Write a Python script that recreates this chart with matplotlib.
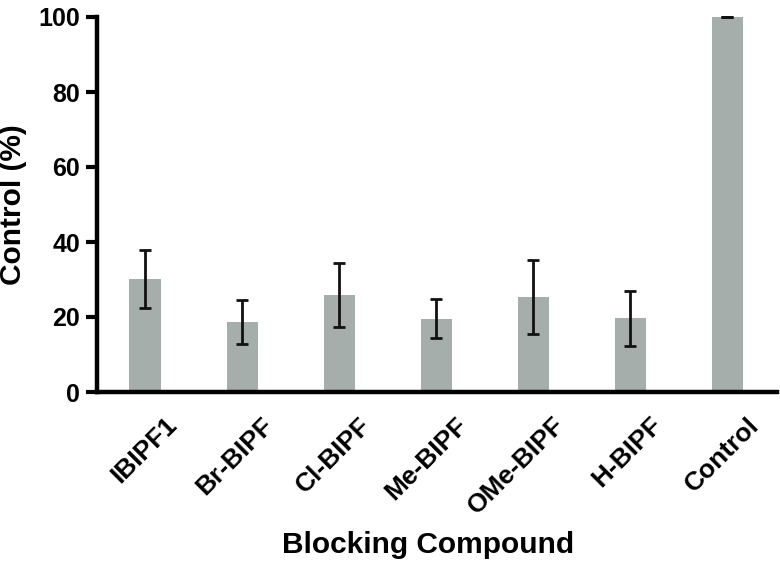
import numpy as np
import matplotlib.pyplot as plt
from matplotlib.transforms import ScaledTranslation

plt.rcParams['font.family'] = ['Liberation Sans', 'DejaVu Sans']
plt.rcParams['font.weight'] = 'bold'

compounds = ['IBIPF1', 'Br-BIPF', 'Cl-BIPF', 'Me-BIPF', 'OMe-BIPF', 'H-BIPF', 'Control']
values = [30.1, 18.7, 25.9, 19.6, 25.3, 19.7, 100.0]
errors = [7.8, 5.8, 8.5, 5.3, 9.8, 7.3, 0.0]

x = np.arange(len(compounds))

fig = plt.figure(figsize=(7.8, 5.61), dpi=100)
ax = fig.add_axes([97/780, 1-392/561, 680/780, 375/561])

ax.bar(x, values, width=0.32, color='#a5aeab', zorder=1)
ax.errorbar(x, values, yerr=errors, fmt='none', ecolor='#111111',
            elinewidth=2, capsize=4.5, capthick=2, clip_on=False, zorder=2)

ax.set_xlim(-0.495, 6.515)
ax.set_ylim(0, 100)
ax.set_yticks([0, 20, 40, 60, 80, 100])
ax.set_xticks(x)
ax.set_xticklabels(compounds, rotation=45, ha='right', va='center',
                   rotation_mode='anchor', fontsize=19, fontweight='bold')
ax.tick_params(axis='x', length=0, pad=14)
ax.tick_params(axis='y', length=8, width=3, labelsize=18, pad=4, direction='out')
for t in ax.get_yticklabels():
    t.set_fontweight('bold')

# shift rotated labels so they end right of the bar centre, like the original
shift = ScaledTranslation(0.28, -0.10, fig.dpi_scale_trans)
for t in ax.get_xticklabels():
    t.set_transform(t.get_transform() + shift)

for side in ['top', 'right']:
    ax.spines[side].set_visible(False)
for side in ['left', 'bottom']:
    ax.spines[side].set_linewidth(3.2)
    ax.spines[side].set_color('black')

ax.set_ylabel('Control (%)', fontsize=21.5, fontweight='bold', labelpad=8)
fig.text(428/780, 1-545/561, 'Blocking Compound', fontsize=21.5,
         fontweight='bold', ha='center', va='center')

fig.savefig('out.png', dpi=100)
